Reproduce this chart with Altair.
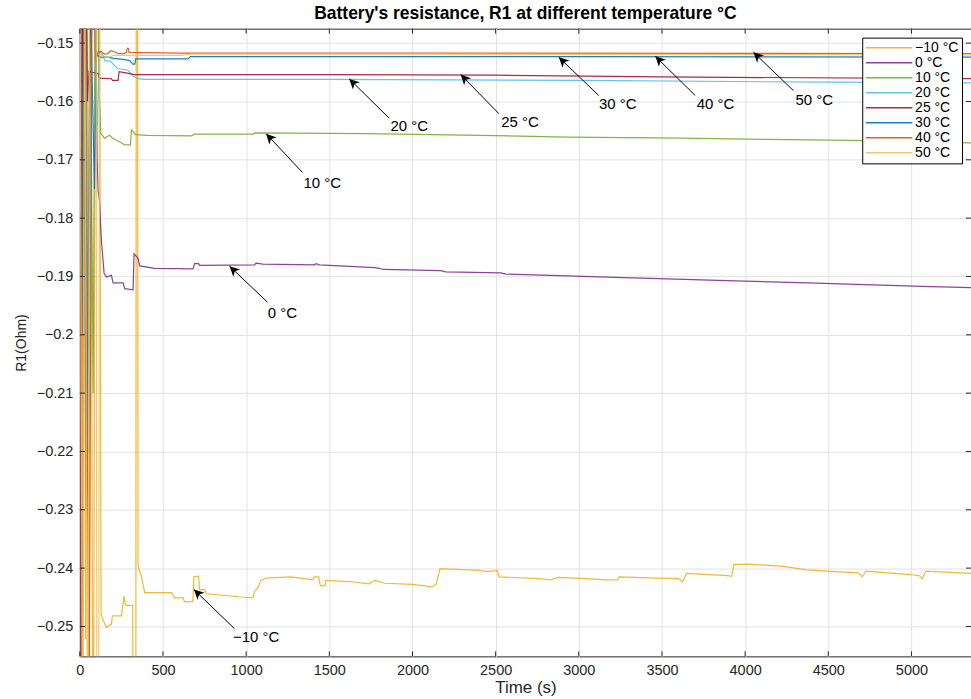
import math

import altair as alt
import pandas as pd

# ---------------------------------------------------------------------------
# R1 estimates (Ohm) against time (s), one trace per test temperature
# ---------------------------------------------------------------------------
LABELS = ["−10 °C", "0 °C", "10 °C", "20 °C", "25 °C", "30 °C", "40 °C", "50 °C"]
COLORS = ["#EDB120", "#7E2F8E", "#77AC30", "#4DBEEE", "#A2142F", "#0072BD", "#D95319", "#F0C35A"]

T_M10 = [0, 10, 20, 35, 42, 55, 65, 80, 95, 118, 128, 160, 190, 196, 250, 266, 272, 280, 318, 320,
         336, 340, 346, 350, 370, 390, 550, 570, 620, 630, 680, 686, 714, 720, 750, 760, 990, 1040,
         1050, 1070, 1090, 1120, 1270, 1400, 1410, 1436, 1446, 1474, 1480, 1620, 1739, 1774, 1834,
         2000, 2118, 2142, 2166, 2403, 2450, 2510, 2521, 2758, 2830, 2877, 3043, 3161, 3232, 3244,
         3469, 3600, 3624, 3647, 3897, 3920, 3932, 4015, 4229, 4371, 4490, 4680, 4704, 4727, 4988,
         5048, 5064, 5088, 5358]
R_M10 = [-0.10, -0.30, -0.12, -0.2522, -0.12, -0.30, -0.12, -0.30, -0.12, -0.13, -0.2480, -0.2502,
         -0.2496, -0.2482, -0.2482, -0.2448, -0.2460, -0.2464, -0.2464, -0.30, -0.30, -0.10, -0.10,
         -0.2397, -0.2414, -0.2442, -0.2442, -0.2451, -0.2451, -0.2458, -0.2457, -0.2415, -0.2414,
         -0.2437, -0.2437, -0.2444, -0.2450, -0.2451, -0.2440, -0.2434, -0.2421, -0.2417, -0.2415,
         -0.2420, -0.2415, -0.2415, -0.2430, -0.2430, -0.2421, -0.2423, -0.2427, -0.2421, -0.2426,
         -0.2428, -0.2432, -0.2428, -0.2401, -0.2404, -0.2406, -0.2404, -0.2415, -0.2418, -0.2420,
         -0.2416, -0.2418, -0.2420, -0.2420, -0.2415, -0.2417, -0.2418, -0.2424, -0.2409, -0.2413,
         -0.2414, -0.2394, -0.2393, -0.2397, -0.2403, -0.2405, -0.2408, -0.2415, -0.2405, -0.2411,
         -0.2413, -0.2418, -0.2405, -0.2409]

T_0 = [0, 6, 14, 30, 40, 70, 95, 104, 110, 118, 130, 146, 160, 180, 190, 200, 260, 270, 320, 326,
       350, 360, 450, 680, 690, 714, 720, 1050, 1060, 1100, 1412, 1420, 1440, 1774, 1800, 1825,
       2170, 2200, 2531, 2560, 2928, 3272, 3634, 3995, 4374, 4718, 5063, 5358]
R_0 = [-0.13, -0.32, -0.13, -0.18, -0.13, -0.14, -0.14, -0.1700, -0.1754, -0.1770, -0.1840,
       -0.1895, -0.1901, -0.1899, -0.1898, -0.1911, -0.1911, -0.1921, -0.1923, -0.1861, -0.1869,
       -0.1882, -0.1886, -0.1887, -0.1878, -0.1878, -0.1881, -0.1880, -0.1877, -0.1879, -0.1880,
       -0.1878, -0.1880, -0.1885, -0.1886, -0.1888, -0.1890, -0.1892, -0.1894, -0.1896, -0.1899,
       -0.1902, -0.1905, -0.1908, -0.1911, -0.1914, -0.1917, -0.1919]

T_10 = [0, 15, 28, 50, 62, 80, 92, 108, 114, 126, 148, 165, 178, 198, 238, 268, 304, 310, 336, 408,
        672, 690, 1040, 1055, 1722, 2411, 2928, 3617, 4133, 4753, 5358]
R_10 = [-0.14, -0.19, -0.15, -0.2063, -0.14, -0.21, -0.14, -0.14, -0.1569, -0.1655, -0.1663,
        -0.1660, -0.1658, -0.1663, -0.1669, -0.1674, -0.1675, -0.1649, -0.1657, -0.1658, -0.1659,
        -0.1656, -0.1656, -0.1654, -0.1655, -0.1658, -0.1661, -0.1663, -0.1665, -0.1667, -0.1671]

T_20 = [0, 20, 35, 55, 72, 92, 100, 106, 118, 135, 150, 186, 200, 228, 288, 300, 318, 350, 388,
        1500, 3000, 4500, 5358]
R_20 = [-0.14, -0.18, -0.14, -0.22, -0.14, -0.14, -0.1642, -0.1642, -0.1515, -0.1518, -0.1530,
        -0.1531, -0.1536, -0.1544, -0.1546, -0.1550, -0.1556, -0.1561, -0.1562, -0.1562, -0.1564,
        -0.1567, -0.1568]

T_25 = [0, 8, 16, 26, 36, 46, 55, 70, 110, 118, 190, 196, 230, 236, 260, 330, 1500, 2500, 3500, 5358]
R_25 = [-0.13, -0.20, -0.13, -0.18, -0.13, -0.16, -0.1548, -0.1550, -0.1552, -0.1560, -0.1561,
        -0.1564, -0.1564, -0.1549, -0.1550, -0.1554, -0.1554, -0.1555, -0.1558, -0.1561]

T_30 = [0, 12, 22, 40, 62, 88, 100, 120, 170, 200, 260, 300, 318, 330, 336, 650, 665, 3000, 5358]
R_30 = [-0.14, -0.20, -0.14, -0.23, -0.14, -0.175, -0.1520, -0.1524, -0.1524, -0.1526, -0.1528,
        -0.1530, -0.1536, -0.1536, -0.1527, -0.1527, -0.1523, -0.1523, -0.1524]

T_40 = [0, 15, 30, 55, 75, 95, 110, 126, 150, 168, 185, 200, 230, 264, 280, 286, 292, 296, 600,
        2000, 5358]
R_40 = [-0.13, -0.28, -0.13, -0.27, -0.13, -0.1530, -0.1515, -0.1514, -0.1519, -0.1518, -0.1513,
        -0.1514, -0.1518, -0.1518, -0.1516, -0.1509, -0.1509, -0.1516, -0.1517, -0.1517, -0.1518]

T_50 = [0, 18, 28, 48, 58, 98, 104, 112, 118, 140, 170, 200, 300, 600, 680, 2000, 5358]
R_50 = [-0.12, -0.30, -0.12, -0.30, -0.14, -0.14, -0.32, -0.32, -0.1520, -0.1523, -0.1525,
        -0.1521, -0.1521, -0.1521, -0.1519, -0.1519, -0.1520]

TIMES = [T_M10, T_0, T_10, T_20, T_25, T_30, T_40, T_50]
RES = [R_M10, R_0, R_10, R_20, R_25, R_30, R_40, R_50]

X_TICKS = [0, 500, 1000, 1500, 2000, 2500, 3000, 3500, 4000, 4500, 5000]
Y_TICKS = [-0.25, -0.24, -0.23, -0.22, -0.21, -0.2, -0.19, -0.18, -0.17, -0.16, -0.15]

# Callouts: label, arrow tip (t, R1), arrow tail (t, R1), text centre (t, R1)
ANN_LABEL = ["−10 °C", "0 °C", "10 °C", "20 °C", "25 °C", "30 °C", "40 °C", "50 °C"]
ANN_TIP_T = [686, 900, 1120, 1620, 2290, 2880, 3460, 4050]
ANN_TIP_R = [-0.24367, -0.18824, -0.16553, -0.15613, -0.15539, -0.15243, -0.15226, -0.15157]
ANN_TAIL_T = [930, 1128, 1338, 1860, 2520, 3120, 3700, 4290]
ANN_TAIL_R = [-0.25039, -0.19440, -0.17216, -0.16287, -0.16211, -0.15898, -0.15898, -0.15813]
ANN_TEXT_T = [1060, 1218, 1458, 1980, 2646, 3234, 3822, 4416]
ANN_TEXT_R = [-0.25180, -0.19628, -0.17404, -0.16429, -0.16360, -0.16052, -0.16052, -0.15967]

# ---------------------------------------------------------------------------
W, H = 893, 629
T_MAX = 5358
R_LO, R_HI = -0.25513, -0.14752
FONT = "Liberation Sans"
AX = "#262626"

frames = []
for label, ts, rs in zip(LABELS, TIMES, RES):
    frames.append(pd.DataFrame({"t": ts, "r": rs, "series": label, "i": range(len(ts))}))
data = pd.concat(frames, ignore_index=True)

x_scale = alt.Scale(domain=[0, T_MAX], nice=False, zero=False)
y_scale = alt.Scale(domain=[R_LO, R_HI], nice=False, zero=False)

# one axis definition shared by every layer so the merged axes stay intact
x_axis = alt.Axis(title="Time (s)", values=X_TICKS, format="d", ticks=False, domain=False,
                  labelFlush=False, labelPadding=7, labelFontSize=14.5,
                  titlePadding=3, titleFontSize=17)
y_axis = alt.Axis(title="R1(Ohm)", values=Y_TICKS, format=".2~f", ticks=False, domain=False,
                  labelFlush=False, labelPadding=7, labelFontSize=14.5,
                  titlePadding=8, titleFontSize=14)


def X(field):
    return alt.X(field, scale=x_scale, axis=x_axis, title="Time (s)")


def Y(field):
    return alt.Y(field, scale=y_scale, axis=y_axis, title="R1(Ohm)")


lines = alt.Chart(data).mark_line(clip=True, strokeWidth=1.2, opacity=0.9).encode(
    x=X("t:Q"),
    y=Y("r:Q"),
    color=alt.Color("series:N", scale=alt.Scale(domain=LABELS, range=COLORS),
                    legend=alt.Legend(title=None, orient="none", legendX=784, legendY=9,
                                      symbolType="stroke", symbolSize=2150,
                                      symbolStrokeWidth=1.5, clipHeight=14.5, rowPadding=0,
                                      labelFontSize=14, labelFont=FONT, labelColor="black",
                                      strokeColor="black", fillColor="white", padding=3,
                                      labelOffset=2, labelLimit=80)),
    order="i:Q",
)

# inward tick marks on all four sides of the box
xt = pd.DataFrame({"t": X_TICKS})
yt = pd.DataFrame({"r": Y_TICKS})
tick_bottom = alt.Chart(xt).mark_rule(color=AX).encode(x=X("t:Q"), y=alt.value(H), y2=alt.value(H - 5))
tick_top = alt.Chart(xt).mark_rule(color=AX).encode(x=X("t:Q"), y=alt.value(0), y2=alt.value(5))
tick_left = alt.Chart(yt).mark_rule(color=AX).encode(y=Y("r:Q"), x=alt.value(0), x2=alt.value(5))
tick_right = alt.Chart(yt).mark_rule(color=AX).encode(y=Y("r:Q"), x=alt.value(W - 5), x2=alt.value(W))

# callout arrows
ann = pd.DataFrame({
    "label": ANN_LABEL,
    "tip_t": ANN_TIP_T, "tip_r": ANN_TIP_R,
    "tail_t": ANN_TAIL_T, "tail_r": ANN_TAIL_R,
    "text_t": ANN_TEXT_T, "text_r": ANN_TEXT_R,
})
px_t = W / T_MAX
px_r = H / (R_HI - R_LO)
ann["angle"] = [
    (math.degrees(math.atan2((a - b) * px_t, (c - d) * px_r)) + 360) % 360
    for a, b, c, d in zip(ann.tip_t, ann.tail_t, ann.tip_r, ann.tail_r)
]

HEAD = "M0,0L0.5,1L0,0.72L-0.5,1Z"

shafts = alt.Chart(ann).mark_rule(color="black", strokeWidth=1).encode(
    x=X("tail_t:Q"), y=Y("tail_r:Q"), x2="tip_t:Q", y2="tip_r:Q",
)
heads = alt.Chart(ann).mark_point(shape=HEAD, size=400, filled=True, color="black",
                                  opacity=1, strokeWidth=0).encode(
    x=X("tip_t:Q"), y=Y("tip_r:Q"),
    angle=alt.Angle("angle:Q", scale=None),
)
notes = alt.Chart(ann).mark_text(font=FONT, fontSize=15, color="black").encode(
    x=X("text_t:Q"), y=Y("text_r:Q"), text="label:N",
)

chart = alt.layer(
    lines, tick_bottom, tick_top, tick_left, tick_right, shafts, heads, notes
).properties(
    width=W, height=H,
    title=alt.TitleParams("Battery's resistance, R1 at different temperature °C", font=FONT,
                          fontSize=17.5, fontWeight="bold", color="black", offset=6),
    autosize=alt.AutoSizeParams(type="none"),
    padding={"left": 80, "top": 28, "right": 0, "bottom": 42},
).configure_view(
    stroke=AX, strokeWidth=1
).configure_axis(
    grid=True, gridColor="#e2e2e2", gridWidth=1,
    labelFont=FONT, labelColor=AX,
    titleFont=FONT, titleFontWeight="normal", titleColor=AX,
)

chart.save("out.html", embed_options={"renderer": "svg", "actions": False})
